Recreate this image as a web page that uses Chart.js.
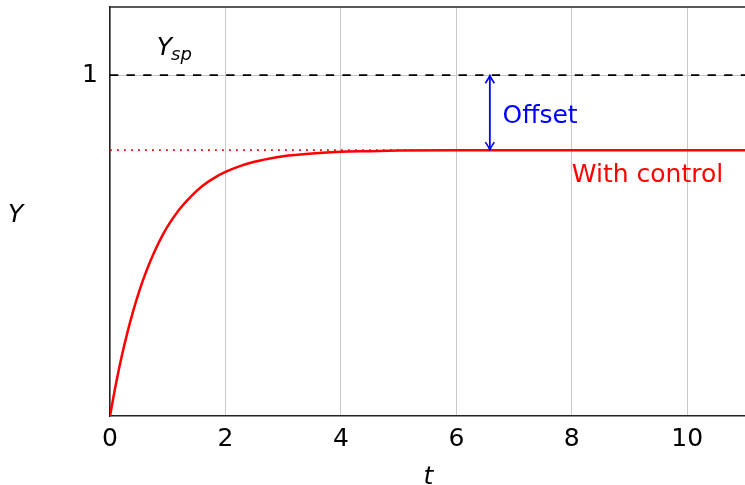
<!DOCTYPE html>
<html>
<head>
<meta charset="utf-8">
<script src="https://cdn.jsdelivr.net/npm/chart.js@4"></script>
<style>
  html, body { margin: 0; padding: 0; background: #fff; }
  #wrap { width: 745px; height: 485px; position: relative; }
</style>
</head>
<body>
<div id="wrap"><canvas id="c" width="745" height="485"></canvas></div>
<script>
// ---- data ----
const tValues = [0, 0.1, 0.2, 0.3, 0.4, 0.5, 0.6, 0.7, 0.8, 0.9, 1.0, 1.2, 1.4, 1.6, 1.8, 2.0, 2.25, 2.5, 2.75, 3.0, 3.5, 4.0, 4.5, 5, 6, 7, 8, 9, 10, 11];
const yWithControl = [0, 0.092, 0.173, 0.244, 0.307, 0.363, 0.412, 0.455, 0.493, 0.527, 0.557, 0.606, 0.644, 0.675, 0.698, 0.716, 0.733, 0.746, 0.755, 0.762, 0.770, 0.775, 0.777, 0.779, 0.780, 0.780, 0.780, 0.780, 0.780, 0.780];
const setpoint = 1;
const finalValue = 0.78;
const xRange = [0, 11];
const yRange = [0, 1.2];
const xTickValues = [0, 2, 4, 6, 8, 10];
const yTickValues = [1];
const offsetArrowX = 6.58;
const labels = {
  offset: { text: 'Offset', x: 6.8, y: 0.86 },
  withControl: { text: 'With control', x: 8.0, y: 0.687 },
  ysp: { main: 'Y', sub: 'sp', x: 0.81, y: 1.059 },
  yTitle: 'Y',
  xTitle: 't'
};

const FONT = "'DejaVu Sans', sans-serif";
const curvePts = tValues.map((t, i) => ({ x: t, y: yWithControl[i] }));
const spLine = [{ x: xRange[0], y: setpoint }, { x: xRange[1], y: setpoint }];
const finalLine = [{ x: xRange[0], y: finalValue }, { x: xRange[1], y: finalValue }];

const annotate = {
  id: 'annotate',
  afterDraw(chart) {
    const { ctx, chartArea: ca, scales: { x, y } } = chart;
    ctx.save();
    // top frame line
    ctx.strokeStyle = '#222';
    ctx.lineWidth = 1.5;
    ctx.beginPath();
    ctx.moveTo(ca.left, ca.top);
    ctx.lineTo(ca.right, ca.top);
    ctx.stroke();

    // offset arrow
    const ax = x.getPixelForValue(offsetArrowX);
    const y1 = y.getPixelForValue(setpoint);
    const y2 = y.getPixelForValue(finalValue);
    ctx.strokeStyle = '#0000ff';
    ctx.lineWidth = 1.8;
    ctx.beginPath();
    ctx.moveTo(ax, y1 + 1);
    ctx.lineTo(ax, y2 - 1);
    ctx.stroke();
    const hw = 4.5, hl = 8;
    ctx.lineWidth = 1.6;
    ctx.beginPath();
    ctx.moveTo(ax - hw, y1 + hl);
    ctx.quadraticCurveTo(ax - 1, y1 + 3, ax, y1 + 0.5);
    ctx.quadraticCurveTo(ax + 1, y1 + 3, ax + hw, y1 + hl);
    ctx.moveTo(ax - hw, y2 - hl);
    ctx.quadraticCurveTo(ax - 1, y2 - 3, ax, y2 - 0.5);
    ctx.quadraticCurveTo(ax + 1, y2 - 3, ax + hw, y2 - hl);
    ctx.stroke();

    // texts
    ctx.textBaseline = 'alphabetic';
    ctx.textAlign = 'left';
    ctx.fillStyle = '#0000ff';
    ctx.font = '25px ' + FONT;
    ctx.fillText(labels.offset.text, x.getPixelForValue(labels.offset.x), y.getPixelForValue(labels.offset.y));

    ctx.fillStyle = '#ff0000';
    ctx.fillText(labels.withControl.text, x.getPixelForValue(labels.withControl.x), y.getPixelForValue(labels.withControl.y));

    ctx.fillStyle = '#000';
    ctx.font = 'italic 25px ' + FONT;
    const yx = x.getPixelForValue(labels.ysp.x);
    const yy = y.getPixelForValue(labels.ysp.y);
    ctx.fillText(labels.ysp.main, yx, yy);
    const w = ctx.measureText(labels.ysp.main).width;
    ctx.font = 'italic 18px ' + FONT;
    ctx.fillText(labels.ysp.sub, yx + w - 1, yy + 5);

    // axis titles
    ctx.font = 'italic 25px ' + FONT;
    ctx.fillText(labels.yTitle, 8, y.getPixelForValue(0.569));
    ctx.textAlign = 'center';
    ctx.fillText(labels.xTitle, (ca.left + ca.right) / 2 + 1, 484);
    ctx.restore();
  }
};

new Chart(document.getElementById('c'), {
  type: 'line',
  data: {
    datasets: [
      { data: curvePts, borderColor: '#ff0000', borderWidth: 2.5, pointRadius: 0, cubicInterpolationMode: 'monotone', fill: false },
      { data: finalLine, borderColor: '#ff0000', borderWidth: 1.8, borderDash: [1.8, 5.2], pointRadius: 0, fill: false },
      { data: spLine, borderColor: '#000', borderWidth: 1.8, borderDash: [8.3, 8.3], pointRadius: 0, fill: false }
    ]
  },
  options: {
    responsive: false,
    animation: false,
    devicePixelRatio: 1,
    layout: { padding: { top: 7, right: 0, left: 0, bottom: 0 } },
    plugins: { legend: { display: false }, tooltip: { enabled: false } },
    scales: {
      x: {
        type: 'linear',
        min: xRange[0], max: xRange[1],
        afterBuildTicks(s) { s.ticks = xTickValues.map(v => ({ value: v })); },
        afterFit(s) { s.height = 69; s.paddingLeft = 0; s.paddingRight = 0; },
        grid: { color: '#c8c8c8', lineWidth: 1, drawTicks: false },
        border: { display: true, color: '#222', width: 1.5 },
        ticks: { color: '#000', font: { family: FONT, size: 25 }, padding: 8, maxRotation: 0, autoSkip: false }
      },
      y: {
        type: 'linear',
        min: yRange[0], max: yRange[1],
        afterBuildTicks(s) { s.ticks = yTickValues.map(v => ({ value: v })); },
        afterFit(s) { s.width = 110; s.paddingTop = 0; s.paddingBottom = 0; },
        grid: { color: '#c8c8c8', lineWidth: 1, drawTicks: false },
        border: { display: true, color: '#222', width: 1.5 },
        ticks: { color: '#000', font: { family: FONT, size: 25 }, padding: 12 }
      }
    }
  },
  plugins: [annotate]
});
</script>
</body>
</html>
